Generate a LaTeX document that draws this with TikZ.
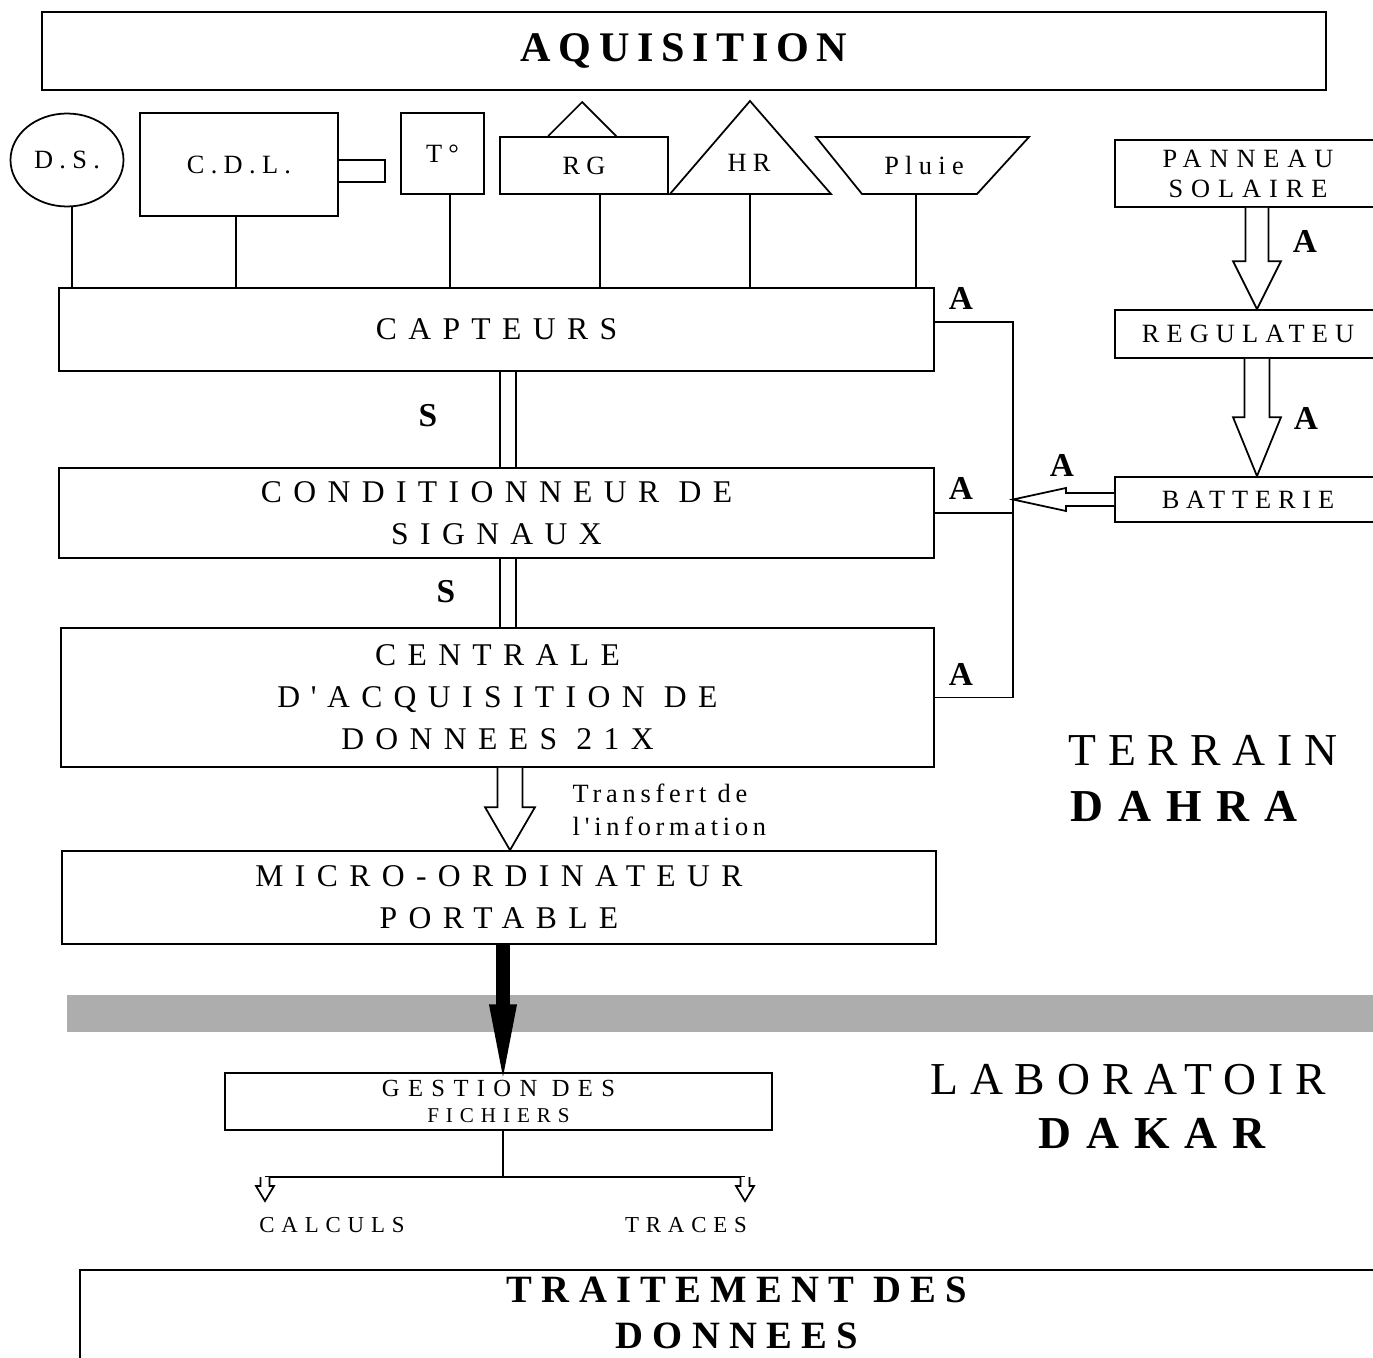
\documentclass[tikz,border=0pt]{standalone}
\usepackage{fontspec}
\setmainfont{Liberation Serif}
\usetikzlibrary{positioning,calc,shapes.geometric}

\newcommand{\lsfont}[3]{\fontsize{#1}{#2}\selectfont\addfontfeature{LetterSpace=#3}}
\newcommand{\lsbold}[3]{\fontsize{#1}{#2}\selectfont\bfseries\addfontfeature{LetterSpace=#3}}
% block arrow pointing down / left
\newcommand{\downblock}[6][fill=white]{\draw[#1] let \p1=(#2), \p2=(#3) in (\x1-#4,\y1) -- (\x1-#4,\y2+#6) -- (\x1-#5,\y2+#6) -- (\x1,\y2) -- (\x1+#5,\y2+#6) -- (\x1+#4,\y2+#6) -- (\x1+#4,\y1);}
\newcommand{\leftblock}[5]{\draw[fill=white] let \p1=(#1), \p2=(#2) in (\x1,\y1+#3) -- (\x2+#5,\y1+#3) -- (\x2+#5,\y1+#4) -- (\x2,\y1) -- (\x2+#5,\y1-#4) -- (\x2+#5,\y1-#3) -- (\x1,\y1-#3);}

\tikzstyle{block} = [rectangle, draw=black, inner sep=0pt, align=center]
\tikzstyle{big} = [font=\lsfont{18}{24}{36}]
\tikzstyle{sensor} = [font=\lsfont{15}{17}{24}]
\tikzstyle{flag} = [font=\lsbold{19}{22}{0}]
\tikzstyle{site} = [font=\lsfont{26}{30}{26}]
\tikzstyle{sitebold} = [font=\lsbold{26}{30}{33}]

\begin{document}
\begin{tikzpicture}[x=0.02cm, y=-0.02cm, line width=1pt]
        \useasboundingbox (0,0) rectangle (1373,1358);

        % acquisition
        \node (aqui) [block, minimum width=25.68cm, minimum height=1.56cm, font=\lsbold{24}{28}{18}] at (684,51) {AQUISITION};

        % sensors
        \node (ds) [ellipse, draw, minimum width=2.26cm, minimum height=1.86cm, inner sep=0pt, sensor] at (67,160) {D.S.};
        \node (cdl) [block, minimum width=3.96cm, minimum height=2.06cm, sensor] at (239,164.5) {C.D.L.};
        \node (plug) [block, minimum width=0.94cm, minimum height=0.44cm] at (361.5,171) {};
        \node (temp) [block, minimum width=1.66cm, minimum height=1.62cm, sensor] at (442.5,153.5) {T°};
        \node (rg) [block, minimum width=3.36cm, minimum height=1.14cm, sensor] at (584,165.5) {RG};
        \draw ([xshift=0.98cm]rg.north west) -- ++(34,-34) -- ++(34,34);
        \coordinate (hrtop) at (750,101);
        \coordinate (hrfoot) at (750,194);
        \draw (670,194) -- (hrtop) -- (831,194) -- cycle;
        \node (hr) [sensor] at (749,163) {HR};
        \coordinate (pluiefoot) at (916,194);
        \draw (816,137) -- (1029,137) -- (977,194) -- (862,194) -- cycle;
        \node (pluie) [sensor] at (924,165) {Pluie};

        % chain
        \node (capteurs) [block, minimum width=17.5cm, minimum height=1.66cm, big] at (496.5,329.5) {CAPTEURS};
        \node (cond) [block, minimum width=17.5cm, minimum height=1.8cm, big] at (496.5,513) {CONDITIONNEUR DE\\SIGNAUX};
        \node (centrale) [block, minimum width=17.46cm, minimum height=2.78cm, big] at (497.5,697.5) {CENTRALE\\D\kern6pt\textquotesingle\kern6pt ACQUISITION DE\\DONNEES 21X};
        \node (micro) [block, minimum width=17.48cm, minimum height=1.86cm, big] at (499,897.5) {MICRO-ORDINATEUR\\PORTABLE};

        \draw ([xshift=0.1cm]ds.south) -- ([xshift=0.1cm]ds.south |- capteurs.north);
        \draw ([xshift=-0.06cm]cdl.south) -- ([xshift=-0.06cm]cdl.south |- capteurs.north);
        \draw ([xshift=0.15cm]temp.south) -- ([xshift=0.15cm]temp.south |- capteurs.north);
        \draw ([xshift=0.32cm]rg.south) -- ([xshift=0.32cm]rg.south |- capteurs.north);
        \draw (hrfoot) -- (hrfoot |- capteurs.north);
        \draw (pluiefoot) -- (pluiefoot |- capteurs.north);

        \foreach \dx in {0.07cm,0.39cm} {
            \draw ([xshift=\dx]capteurs.south) -- ([xshift=\dx]capteurs.south |- cond.north);
            \draw ([xshift=\dx]cond.south) -- ([xshift=\dx]cond.south |- centrale.north);
        }
        \node (s1) [flag] at (428,416) {S};
        \node (s2) [flag] at (446,592) {S};

        % power supply
        \node (panneau) [block, minimum width=5.32cm, minimum height=1.34cm, font=\lsfont{15}{17}{30}] at (1248,173.5) {PANNEAU\\SOLAIRE};
        \node (regul) [block, minimum width=5.32cm, minimum height=0.96cm, font=\lsfont{15}{17}{27}] at (1248,334) {REGULATEU};
        \node (batt) [block, minimum width=5.32cm, minimum height=0.9cm, font=\lsfont{15}{17}{26}] at (1248,499.5) {BATTERIE};
        \downblock{[xshift=0.18cm]panneau.south}{[xshift=0.18cm]regul.north}{0.23cm}{0.48cm}{0.96cm}
        \downblock{[xshift=0.18cm]regul.south}{[xshift=0.18cm]batt.north}{0.25cm}{0.48cm}{1.18cm}
        \coordinate (bus) at (1013,0);
        \draw ([yshift=0.15cm]capteurs.east) -| (bus |- centrale.east) -- (centrale.east);
        \draw (cond.east) -- (cond.east -| bus);
        \leftblock{batt.west}{bus |- batt.west}{0.13cm}{0.23cm}{1.06cm}
        \node (a1) [flag] at (1305,241) {A};
        \node (a2) [flag] at (1306,418) {A};
        \node (a3) [flag] at (1062,465) {A};
        \node (a4) [flag] at (961,298) {A};
        \node (a5) [flag] at (961,488) {A};
        \node (a6) [flag] at (961,674) {A};

        % transfer
        \downblock{[xshift=0.25cm]centrale.south}{[xshift=0.25cm]centrale.south |- micro.north}{0.25cm}{0.5cm}{0.86cm}
        \node (transf) [anchor=west, align=left, font=\lsfont{15}{18.7}{18}] at (566,810) {Transfert de\\l\kern2.7pt\textquotesingle\kern2.7pt information};
        \node (terrain) [site] at (1203,750) {TERRAIN};
        \node (dahra) [sitebold] at (1184,806) {DAHRA};

        % boundary
        \fill[black!32] (67,995) rectangle (1380,1032);

        % laboratory
        \node (gestion) [block, minimum width=10.94cm, minimum height=1.14cm] at (498.5,1101.5) {{\lsfont{14}{15.5}{34}GESTION DES}\\[3pt]{\lsfont{12}{15.5}{33}FICHIERS}};
        \downblock[fill=black]{[xshift=0.08cm]micro.south}{[xshift=0.08cm]micro.south |- gestion.north}{0.12cm}{0.26cm}{1.34cm}
        \coordinate (fork) at (503,1177);
        \coordinate (forkl) at (265,1177);
        \coordinate (forkr) at (745,1177);
        \draw ([xshift=0.09cm]gestion.south) -- (fork);
        \draw (forkl) -- (forkr);
        \node (calculs) [font=\lsfont{13}{15}{30}] at (332,1225) {CALCULS};
        \node (traces) [font=\lsfont{13}{15}{30}] at (686,1225) {TRACES};
        \downblock{forkl}{[yshift=-0.48cm]forkl}{0.09cm}{0.18cm}{0.3cm}
        \downblock{forkr}{[yshift=-0.48cm]forkr}{0.09cm}{0.18cm}{0.3cm}
        \node (labo) [site] at (1128,1080) {LABORATOIR};
        \node (dakar) [sitebold] at (1152,1133) {DAKAR};

        % processing
        \node (trait) [block, minimum width=26.4cm, minimum height=2.6cm] at (740,1335) {};
        \node (traittxt) [font=\lsbold{22}{26}{24}, align=center] at (737,1313) {TRAITEMENT DES\\DONNEES};
\end{tikzpicture}
\end{document}
